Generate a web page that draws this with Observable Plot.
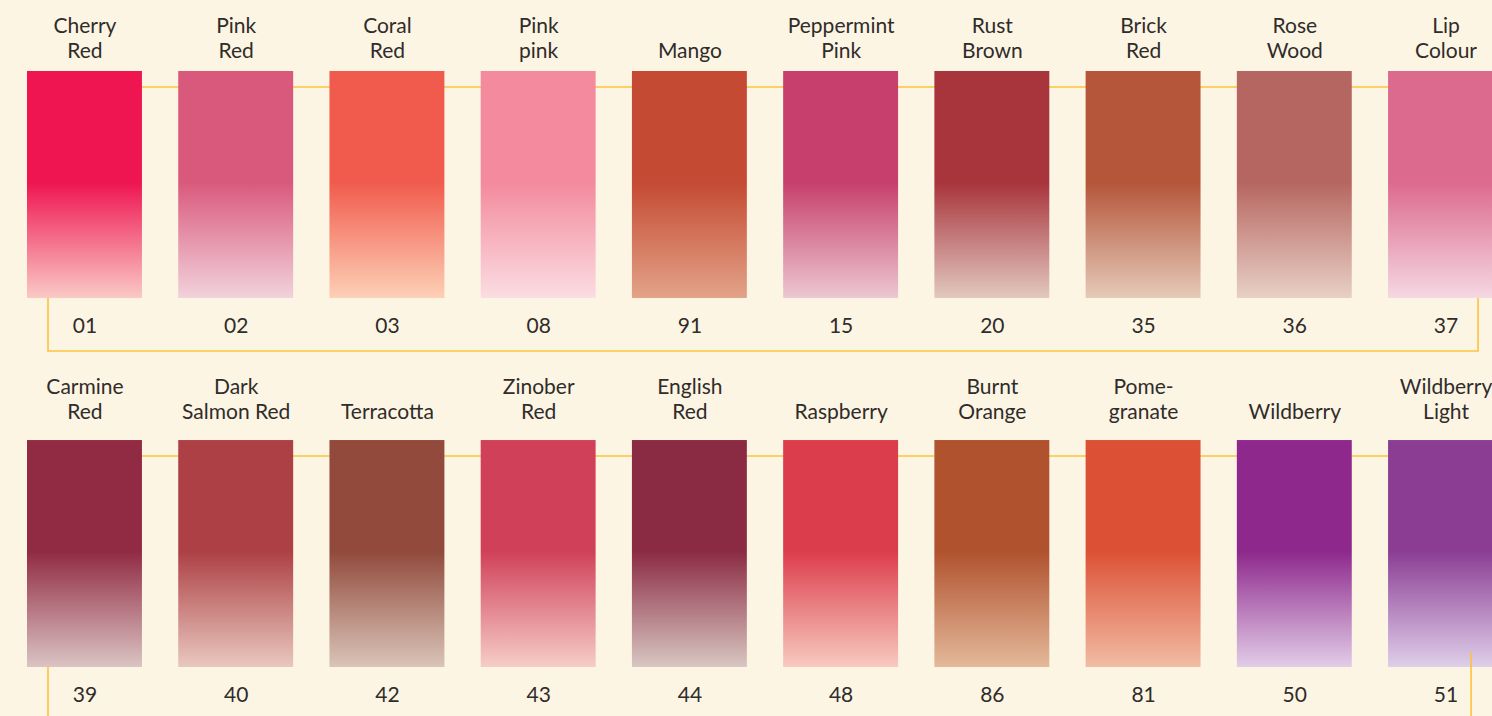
<!DOCTYPE html>
<html>
<head>
<meta charset="utf-8">
<script src="https://cdn.jsdelivr.net/npm/d3@7"></script>
<script src="https://cdn.jsdelivr.net/npm/@observablehq/plot@0.6"></script>
<style>
  html, body { margin: 0; padding: 0; background: #fdf5e4; overflow: hidden; }
  #chart svg { display: block; }
</style>
</head>
<body>
<div id="chart"></div>
<script>
// ---- data ----
const codes = ["01","02","03","08","91","15","20","35","36","37",
               "39","40","42","43","44","48","86","81","50","51"];
const names = ["Cherry\nRed","Pink\nRed","Coral\nRed","Pink\npink","Mango","Peppermint\nPink","Rust\nBrown","Brick\nRed","Rose\nWood","Lip\nColour",
               "Carmine\nRed","Dark\nSalmon Red","Terracotta","Zinober\nRed","English\nRed","Raspberry","Burnt\nOrange","Pome-\ngranate","Wildberry","Wildberry\nLight"];
const topColors = ["#ee1551","#d9597c","#f15b4d","#f38a9d","#c44a33","#c73f6c","#a8343c","#b5553a","#b66660","#dc6a8e",
                   "#912a43","#ad4045","#914a3c","#d04159","#8b2b43","#dc3d4c","#b0522e","#dc5136","#8e288c","#8b3d94"];
const bottomColors = ["#fac9c6","#f2d2dc","#fdd0b6","#fbdde2","#e2a388","#ecc7d2","#e2c8c0","#e5cab8","#e8d0c6","#f5d8e2",
                      "#dbc4c3","#e9c8be","#d9c5b8","#f6cdc8","#d8c6c2","#f8cac0","#e4b99a","#f1bca4","#e2cde8","#dfcfe9"];
const perRow = 10;

const swatches = codes.map((code, i) => ({
  code, name: names[i], top: topColors[i], bottom: bottomColors[i],
  col: i % perRow, row: Math.floor(i / perRow)
}));

const lineColor = "#fcc23e";
const textColor = "#2f2c2a";

// gradient definitions + connecting row lines (under the swatches)
function underlay(index, scales) {
  const {x, y} = scales;
  const g = d3.create("svg:g");
  const defs = g.append("defs");
  for (const s of swatches) {
    const lg = defs.append("linearGradient")
      .attr("id", "grad-" + s.code)
      .attr("x1", 0).attr("y1", 0).attr("x2", 0).attr("y2", 1);
    lg.append("stop").attr("offset", "0%").attr("stop-color", s.top);
    lg.append("stop").attr("offset", "49%").attr("stop-color", s.top);
    lg.append("stop").attr("offset", "100%").attr("stop-color", s.bottom);
  }
  const xb = x.bandwidth ? x.bandwidth() : 115;
  const rows = d3.groups(swatches, d => d.row);
  for (const [row, items] of rows) {
    const x0 = x(items[0].col) + xb / 2;
    const x1 = x(items[items.length - 1].col) + xb + 40;
    const yy = y(row) + 16;
    g.append("line").attr("x1", x0).attr("x2", x1).attr("y1", yy).attr("y2", yy)
      .attr("stroke", lineColor).attr("stroke-width", 1.6);
  }
  return g.node();
}

// bracket lines below each row
function brackets(index, scales) {
  const {x, y} = scales;
  const g = d3.create("svg:g");
  const yb = y.bandwidth ? y.bandwidth() : 227;
  const rows = d3.groups(swatches, d => d.row);
  for (const [row, items] of rows) {
    const xl = x(items[0].col) + 21;
    const xr = x(items[items.length - 1].col) + (row === 0 ? 90 : 83);
    const yTop = y(row) + yb;
    const yBot = yTop + 53;
    const yRight = row === 0 ? yTop : yTop - 15;
    g.append("path")
      .attr("d", `M${xl},${yTop}V${yBot}H${xr}V${yRight}`)
      .attr("fill", "none").attr("stroke", lineColor).attr("stroke-width", 1.6);
  }
  return g.node();
}

const labelStyle = { x: "col", y: "row", text: "name", lineAnchor: "bottom", lineHeight: 1.19, fontSize: 21, fill: textColor };

const chart = Plot.plot({
  width: 1492,
  height: 716,
  margin: 0,
  style: { background: "#fdf5e4", fontFamily: "Lato, 'Noto Sans', sans-serif" },
  x: { type: "band", domain: d3.range(perRow), range: [27, 1503], paddingInner: 0.24, paddingOuter: 0, round: false, axis: null },
  y: { type: "band", domain: [0, 1], range: [71, 667], paddingInner: 0.385, paddingOuter: 0, round: false, axis: null },
  color: { type: "identity" },
  marks: [
    underlay,
    Plot.cell(swatches, { x: "col", y: "row", fill: d => `url(#grad-${d.code})`, inset: 0 }),
    brackets,
    Plot.text(swatches.filter(d => d.row === 0), { ...labelStyle, dy: -127 }),
    Plot.text(swatches.filter(d => d.row === 1), { ...labelStyle, dy: -135 }),
    Plot.text(swatches, { x: "col", y: "row", text: "code", dy: 141, fontSize: 21, fill: textColor })
  ]
});
document.getElementById("chart").append(chart);
</script>
</body>
</html>
